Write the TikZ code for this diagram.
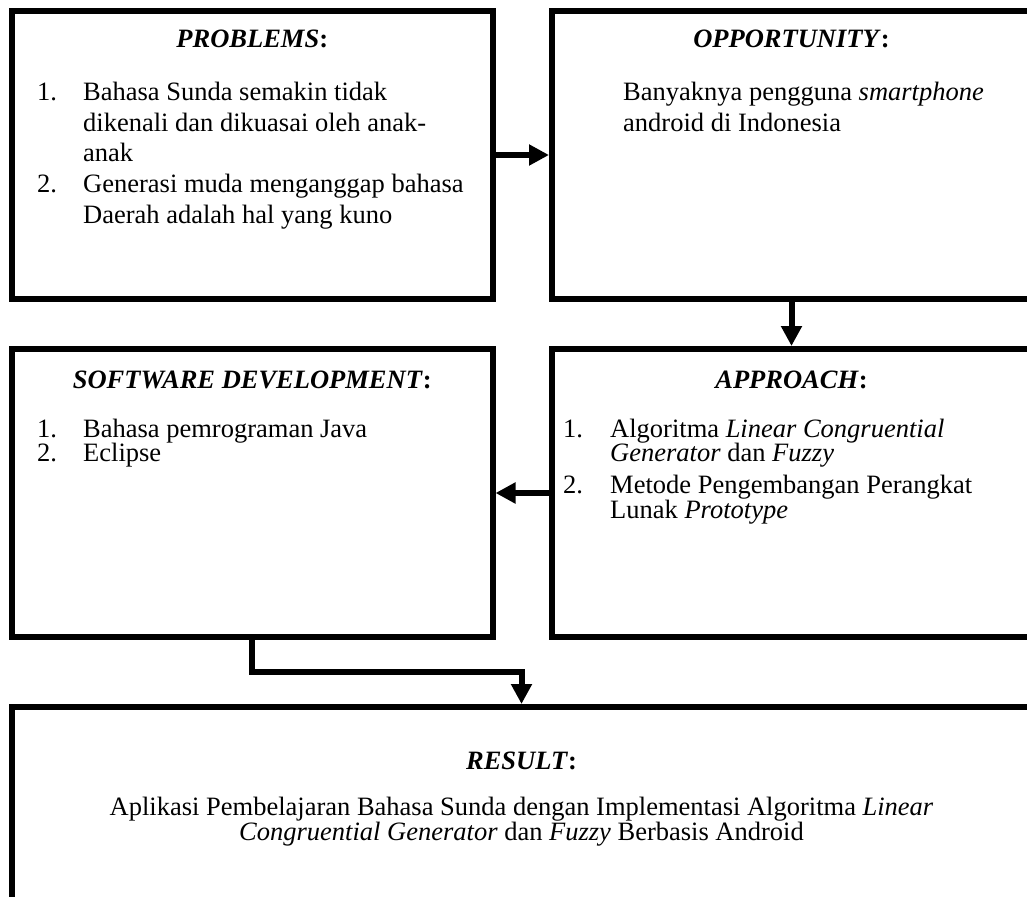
\documentclass[tikz,border=0pt]{standalone}
\usepackage{fontspec}
\setmainfont{Liberation Serif}
\usetikzlibrary{arrows.meta}
\newcommand{\dfs}{\fontsize{26.5}{30.5}\selectfont}
\begin{document}
\begin{tikzpicture}[x=1pt,y=-1pt,
  box/.style={draw,line width=6pt,inner sep=0pt,rectangle},
  txt/.style={inner sep=0pt,anchor=base west,font=\dfs},
  ctr/.style={inner sep=0pt,anchor=base,font=\dfs},
  ttl/.style={inner sep=0pt,anchor=base,font=\dfs\bfseries},
  arr/.style={line width=6pt,-{Triangle[length=20pt,width=20pt]}}]
\clip (0,0) rectangle (1027,896);
\useasboundingbox (0,0) rectangle (1027,896);
\fill[white] (0,0) rectangle (1027,896);
% boxes
\node[box,minimum width=480.5pt,minimum height=288pt] (P) at (252.25,155) {};
\node[box,minimum width=479pt,minimum height=288pt] (O) at (791.5,155) {};
\node[box,minimum width=480.5pt,minimum height=288pt] (S) at (252.25,493) {};
\node[box,minimum width=479pt,minimum height=288pt] (A) at (791.5,493) {};
\node[box,minimum width=1019pt,minimum height=213pt] (R) at (521.5,813.5) {};
% PROBLEMS
\node[ttl] (Pt) at (252.25,48) {\textit{PROBLEMS}:};
\node[txt] (p1n) at (37,101) {1.};
\node[txt] (p1a) at (83,101) {Bahasa Sunda semakin tidak};
\node[txt] (p1b) at (83,131.5) {dikenali dan dikuasai oleh anak-};
\node[txt] (p1c) at (83,162) {anak};
\node[txt] (p2n) at (37,192.5) {2.};
\node[txt] (p2a) at (83,192.5) {Generasi muda menganggap bahasa};
\node[txt] (p2b) at (83,223) {Daerah adalah hal yang kuno};
% OPPORTUNITY
\node[ttl] (Ot) at (791.5,48) {\textit{OPPORTUNITY}:};
\node[txt] (o1) at (623,101) {Banyaknya pengguna \textit{smartphone}};
\node[txt] (o2) at (623,131.5) {android di Indonesia};
% SOFTWARE DEVELOPMENT
\node[ttl] (St) at (252.25,388) {\textit{SOFTWARE DEVELOPMENT}:};
\node[txt] (s1n) at (37,437) {1.};
\node[txt] (s1a) at (83,437) {Bahasa pemrograman Java};
\node[txt] (s2n) at (37,461) {2.};
\node[txt] (s2a) at (83,461) {Eclipse};
% APPROACH
\node[ttl] (At) at (791.5,388) {\textit{APPROACH}:};
\node[txt] (a1n) at (563,437) {1.};
\node[txt] (a1a) at (610,437) {Algoritma \textit{Linear Congruential}};
\node[txt] (a1b) at (610,461) {\textit{Generator} dan \textit{Fuzzy}};
\node[txt] (a2n) at (563,493) {2.};
\node[txt] (a2a) at (610,493) {Metode Pengembangan Perangkat};
\node[txt] (a2b) at (610,518) {Lunak \textit{Prototype}};
% RESULT
\node[ttl] (Rt) at (521.5,769) {\textit{RESULT}:};
\node[ctr] (r1) at (521.5,815) {Aplikasi Pembelajaran Bahasa Sunda dengan Implementasi Algoritma \textit{Linear}};
\node[ctr] (r2) at (521.5,840) {\textit{Congruential Generator} dan \textit{Fuzzy} Berbasis Android};
% connectors
\draw[arr] (P.east) -- (O.west);
\draw[arr] (O.south) -- (A.north);
\draw[arr] (A.west) -- (S.east);
\draw[arr] (S.south) -- ++(0,32) -| (R.north);
\end{tikzpicture}
\end{document}
